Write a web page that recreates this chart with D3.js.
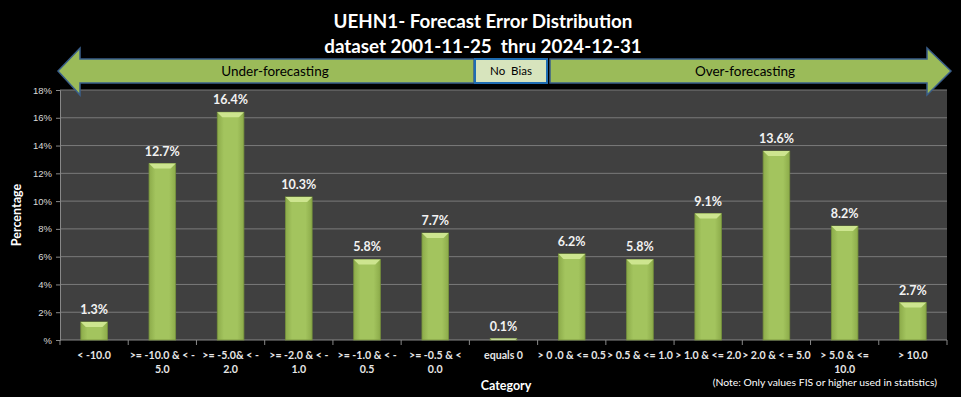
<!DOCTYPE html>
<html lang='en'>
<head>
  <meta charset='UTF-8'>
  <title>UEHN1- Forecast Error Distribution</title>
  <script src="https://d3js.org/d3.v7.min.js"></script>
  <style>
    body { margin: 0; background: #000; }
    svg { display: block; font-family: Lato, 'Open Sans', sans-serif; }
  </style>
</head>
<body>
  <div id="chart"></div>
  <script>
    const categories = [
      ['< -10.0'],
      ['>= -10.0 & < -', '5.0'],
      ['>= -5.0& < -', '2.0'],
      ['>= -2.0 & < -', '1.0'],
      ['>= -1.0 & < -', '0.5'],
      ['>= -0.5 & <', '0.0'],
      ['equals 0'],
      ['> 0 .0 & <= 0.5'],
      ['> 0.5 & <= 1.0'],
      ['> 1.0 & <= 2.0'],
      ['> 2.0 & < = 5.0'],
      ['> 5.0 & <=', '10.0'],
      ['> 10.0']
    ];
    const values = [1.3, 12.7, 16.4, 10.3, 5.8, 7.7, 0.1, 6.2, 5.8, 9.1, 13.6, 8.2, 2.7];
    const yTicks = [0, 2, 4, 6, 8, 10, 12, 14, 16, 18];

    const width = 961;
    const height = 397;
    const plot = { left: 60, right: 947, top: 90, bottom: 340 };

    const svg = d3.select('#chart')
      .append('svg')
      .attr('width', width)
      .attr('height', height);

    svg.append('rect')
      .attr('width', width)
      .attr('height', height)
      .attr('fill', '#000');

    // グラデーション
    const defs = svg.append('defs');
    const grad = defs.append('linearGradient')
      .attr('id', 'barFill')
      .attr('x1', 0).attr('x2', 1).attr('y1', 0).attr('y2', 0);
    grad.append('stop').attr('offset', '0%').attr('stop-color', '#8cab4a');
    grad.append('stop').attr('offset', '25%').attr('stop-color', '#a3c45e');
    grad.append('stop').attr('offset', '75%').attr('stop-color', '#a3c45e');
    grad.append('stop').attr('offset', '100%').attr('stop-color', '#8cab4a');

    const xScale = d3.scaleBand()
      .domain(d3.range(categories.length))
      .range([plot.left, plot.right])
      .paddingInner(0.61)
      .paddingOuter(0.305);

    const step = (plot.right - plot.left) / categories.length;

    const yScale = d3.scaleLinear()
      .domain([0, 18])
      .range([plot.bottom, plot.top]);

    // 背景
    svg.append('rect')
      .attr('x', plot.left)
      .attr('y', plot.top)
      .attr('width', plot.right - plot.left)
      .attr('height', plot.bottom - plot.top)
      .attr('fill', '#404040');

    // グリッド
    svg.append('g')
      .selectAll('line')
      .data(yTicks.slice(1))
      .join('line')
      .attr('x1', plot.left)
      .attr('x2', plot.right)
      .attr('y1', (d) => yScale(d))
      .attr('y2', (d) => yScale(d))
      .attr('stroke', '#7a7a7a')
      .attr('stroke-width', 1);

    // Y軸
    const yAxis = d3.axisLeft(yScale)
      .tickValues(yTicks)
      .tickSize(4)
      .tickFormat((d) => (d === 0 ? '%' : d + '%'));

    const yG = svg.append('g')
      .attr('transform', `translate(${plot.left}, 0)`)
      .call(yAxis);
    yG.select('.domain').attr('stroke', '#888');
    yG.selectAll('.tick line').attr('stroke', '#888');
    yG.selectAll('.tick text')
      .attr('fill', '#d9d9d9')
      .attr('font-size', 9.5)
      .attr('x', -8);

    // X軸
    const xG = svg.append('g')
      .attr('transform', `translate(0, ${plot.bottom})`);
    xG.append('line')
      .attr('x1', plot.left).attr('x2', plot.right)
      .attr('stroke', '#888');
    xG.selectAll('.xtick')
      .data(d3.range(categories.length + 1))
      .join('line')
      .attr('class', 'xtick')
      .attr('x1', (d) => plot.left + d * step)
      .attr('x2', (d) => plot.left + d * step)
      .attr('y1', 0)
      .attr('y2', 5)
      .attr('stroke', '#888');

    const labels = xG.selectAll('.xlabel')
      .data(categories)
      .join('text')
      .attr('class', 'xlabel')
      .attr('text-anchor', 'middle')
      .attr('fill', '#e6e6e6')
      .attr('font-size', 10.6)
      .attr('font-weight', 'bold')
      .attr('transform', (d, i) => `translate(${xScale(i) + xScale.bandwidth() / 2}, 0)`);
    labels.selectAll('tspan')
      .data((d) => d)
      .join('tspan')
      .attr('x', 0)
      .attr('y', (d, i) => 19 + i * 14)
      .text((d) => d);

    // 棒
    const bars = svg.append('g')
      .selectAll('g')
      .data(values)
      .join('g');

    bars.append('rect')
      .attr('x', (d, i) => xScale(i))
      .attr('y', (d) => yScale(d))
      .attr('width', xScale.bandwidth())
      .attr('height', (d) => yScale(0) - yScale(d))
      .attr('fill', 'url(#barFill)')
      .attr('stroke', '#76923c')
      .attr('stroke-width', 0.8);

    bars.append('path')
      .attr('d', (d, i) => {
        const x0 = xScale(i);
        const x1 = x0 + xScale.bandwidth();
        const y0 = yScale(d);
        const b = Math.min(5, yScale(0) - y0);
        return `M${x0},${y0}L${x1},${y0}L${x1 - b},${y0 + b}L${x0 + b},${y0 + b}Z`;
      })
      .attr('fill', (d) => (d < 0.5 ? '#c4d79b' : '#cde58f'));

    bars.append('text')
      .attr('x', (d, i) => xScale(i) + xScale.bandwidth() / 2)
      .attr('y', (d) => yScale(d) - 8)
      .attr('text-anchor', 'middle')
      .attr('fill', '#f2f2f2')
      .attr('font-size', 12.5)
      .attr('font-weight', 'bold')
      .text((d) => d.toFixed(1) + '%');

    // 矢印
    const shaftTop = 59;
    const shaftBot = 83;
    const headTop = 48;
    const headBot = 95;
    const midY = (shaftTop + shaftBot) / 2;

    svg.append('path')
      .attr('d', `M58,${midY}L80,${headTop}L80,${shaftTop}L474,${shaftTop}L474,${shaftBot}L80,${shaftBot}L80,${headBot}Z`)
      .attr('fill', '#9bbb59')
      .attr('stroke', '#3a5f8a')
      .attr('stroke-width', 1.5);

    svg.append('path')
      .attr('d', `M951,${midY}L927,${headTop}L927,${shaftTop}L550,${shaftTop}L550,${shaftBot}L927,${shaftBot}L927,${headBot}Z`)
      .attr('fill', '#9bbb59')
      .attr('stroke', '#3a5f8a')
      .attr('stroke-width', 1.5);

    svg.append('rect')
      .attr('x', 475)
      .attr('y', shaftTop)
      .attr('width', 72)
      .attr('height', shaftBot - shaftTop)
      .attr('fill', '#d7e4bd')
      .attr('stroke', '#1f6db3')
      .attr('stroke-width', 2);

    svg.append('text')
      .attr('x', 275).attr('y', midY + 5)
      .attr('text-anchor', 'middle')
      .attr('font-size', 13.5)
      .attr('fill', '#000')
      .text('Under-forecasting');

    svg.append('text')
      .attr('x', 511).attr('y', midY + 4)
      .attr('text-anchor', 'middle')
      .attr('font-size', 11.5)
      .attr('fill', '#000')
      .attr('xml:space', 'preserve')
      .text('No  Bias');

    svg.append('text')
      .attr('x', 745).attr('y', midY + 5)
      .attr('text-anchor', 'middle')
      .attr('font-size', 13.5)
      .attr('fill', '#000')
      .text('Over-forecasting');

    // タイトル
    svg.append('text')
      .attr('x', 483).attr('y', 28)
      .attr('text-anchor', 'middle')
      .attr('font-size', 18.8)
      .attr('font-weight', 'bold')
      .attr('fill', '#fff')
      .text('UEHN1- Forecast Error Distribution');

    svg.append('text')
      .attr('x', 483).attr('y', 53)
      .attr('text-anchor', 'middle')
      .attr('font-size', 18.8)
      .attr('font-weight', 'bold')
      .attr('fill', '#fff')
      .attr('xml:space', 'preserve')
      .text('dataset 2001-11-25  thru 2024-12-31');

    // 軸タイトル
    svg.append('text')
      .attr('transform', 'translate(21, 215) rotate(-90)')
      .attr('text-anchor', 'middle')
      .attr('font-size', 12.5)
      .attr('font-weight', 'bold')
      .attr('fill', '#fff')
      .text('Percentage');

    svg.append('text')
      .attr('x', 506).attr('y', 390)
      .attr('text-anchor', 'middle')
      .attr('font-size', 12.5)
      .attr('font-weight', 'bold')
      .attr('fill', '#fff')
      .text('Category');

    svg.append('text')
      .attr('x', 937).attr('y', 386)
      .attr('text-anchor', 'end')
      .attr('font-size', 10.4)
      .attr('fill', '#fff')
      .text('(Note: Only values FIS or higher used in statistics)');
  </script>
</body>
</html>
